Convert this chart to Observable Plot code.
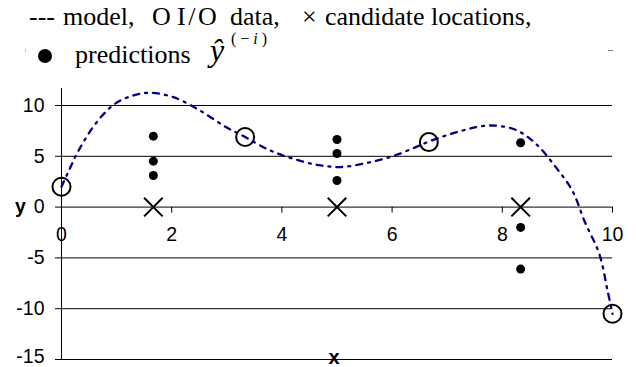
<!DOCTYPE html>
<html>
<head>
<meta charset="utf-8">
<script src="https://cdn.jsdelivr.net/npm/d3@7"></script>
<script src="https://cdn.jsdelivr.net/npm/@observablehq/plot@0.6"></script>
<style>
  html, body { margin: 0; padding: 0; background: #fff; }
  #head { position: relative; width: 636px; height: 62px; color: #000; }
  #head span { position: absolute; white-space: pre; font-family: "Liberation Serif", "Times New Roman", "DejaVu Serif", serif; }
  .l1 { font-size: 26px; line-height: 0.9; top: 4.5px; }
  .l2 { font-size: 26px; line-height: 0.9; top: 42.5px; }
  #bullet { position: absolute; left: 38px; top: 49px; width: 14px; height: 14px; border-radius: 50%; background: #000; }
  #mark { position: absolute; left: 608px; top: 50px; width: 5px; height: 1px; background: #777; }
  #mark2 { position: absolute; left: 25px; top: 49px; width: 1px; height: 3px; background: #bbb; }
  #chart svg { display: block; }
</style>
</head>
<body>
<div id="head">
  <span class="l1" style="left:29px">---</span>
  <span class="l1" style="left:63px">model,</span>
  <span class="l1" style="left:152px">O</span>
  <span class="l1" style="left:177px; letter-spacing:2.5px">I/O</span>
  <span class="l1" style="left:230px">data,</span>
  <span class="l1" style="left:302px">×</span>
  <span class="l1" style="left:325px">candidate locations,</span>
  <div id="bullet"></div>
  <span class="l2" style="left:75px">predictions</span>
  <span style="left:210px; top:35.6px; font-size:32px; line-height:0.9; font-style:italic;">ŷ</span>
  <span style="left:231px; top:32.5px; font-size:16px; line-height:0.8;">( − <i>i</i> )</span>
  <div id="mark"></div>
  <div id="mark2"></div>
</div>
<div id="chart"></div>
<script>
// ---- data ----
const yTicks = [-15, -10, -5, 0, 5, 10];
const xTicks = [0, 2, 4, 6, 8, 10];
const xAxisAt = 0;

// model curve (dash-dot)
const modelX = [0, 0.12, 0.31, 0.64, 0.97, 1.30, 1.60, 2.03, 2.51, 2.99, 3.333, 3.72, 4.02, 4.54, 4.74, 5.04, 5.52, 6.01, 6.43, 6.667, 7.28, 7.76, 8.24, 8.61, 8.97, 9.27, 9.50, 9.76, 9.91, 10];
const modelY = [2.0, 3.43, 5.57, 8.36, 10.17, 10.98, 11.25, 10.82, 9.51, 7.86, 6.9, 5.74, 5.08, 4.26, 4.09, 3.93, 4.32, 5.01, 5.90, 6.45, 7.54, 8.03, 7.61, 6.23, 3.93, 1.63, -1.49, -4.60, -8.21, -10.5];

// I/O data (open circles)
const ioX = [0, 3.333, 6.667, 10];
const ioY = [2.0, 6.9, 6.4, -10.5];

// candidate locations (crosses)
const candX = [1.667, 5, 8.333];
const candY = [0, 0, 0];

// leave-one-out predictions (filled dots)
const predX = [1.667, 1.667, 1.667, 5, 5, 5, 8.333, 8.333, 8.333];
const predY = [6.98, 4.52, 3.11, 6.65, 5.28, 2.62, 6.33, -2.0, -6.1];

// ---- tables ----
const model = modelX.map((x, i) => ({x, y: modelY[i]}));
const io = ioX.map((x, i) => ({x, y: ioY[i]}));
const cand = candX.map((x, i) => ({x, y: candY[i]}));
const pred = predX.map((x, i) => ({x, y: predY[i]}));
const yTop = d3.max(yTicks), yBottom = d3.min(yTicks);

const chart = Plot.plot({
  width: 636,
  height: 305,
  marginLeft: 61,
  marginRight: 24,
  marginTop: 43,
  marginBottom: 8,
  style: {fontFamily: "'Liberation Sans', Arial, sans-serif", fontSize: "19.5px", color: "#000", background: "#fff", overflow: "visible"},
  x: {domain: [d3.min(xTicks), d3.max(xTicks)], axis: null},
  y: {domain: [yBottom, yTop], axis: null},
  marks: [
    // horizontal gridlines
    Plot.ruleY(yTicks, {y: d => d, x1: d3.min(xTicks), x2: d3.max(xTicks), stroke: "#000", strokeWidth: 1}),
    // vertical value axis line
    Plot.ruleX([d3.min(xTicks)], {x: d => d, y1: () => yTop, y2: () => yBottom, insetTop: -17, stroke: "#000", strokeWidth: 1}),
    // y axis ticks & labels (bottom label drawn separately, nudged to stay inside the page)
    Plot.axisY({ticks: yTicks, tickSize: 6, tickPadding: 11, tickFormat: d => d === yBottom ? "" : String(d), label: null, fontSize: 19.5}),
    Plot.axisY({ticks: [yBottom], tickSize: 0, tickPadding: 17, tickFormat: d => String(d), label: null, fontSize: 19.5, dy: -2.5}),
    // x ticks on the y=0 line
    Plot.ruleX(xTicks, {x: d => d, y1: () => xAxisAt, y2: () => xAxisAt, insetBottom: -6, stroke: "#000", strokeWidth: 1}),
    Plot.text(xTicks, {x: d => d, y: () => xAxisAt, text: d => String(d), dy: 28, textAnchor: "middle", fontSize: 19.5}),
    // axis titles
    Plot.text(["y"], {frameAnchor: "left", y: () => xAxisAt, dx: -41, textAnchor: "middle", fontWeight: "bold", fontSize: 19.5}),
    Plot.text(["x"], {frameAnchor: "bottom", lineAnchor: "middle", dx: -3, dy: -2, fontWeight: "bold", fontSize: 20}),
    // model curve
    Plot.line(model, {x: "x", y: "y", curve: "catmull-rom", stroke: "#000080", strokeWidth: 2.3, strokeDasharray: "6,6,2,6"}),
    // I/O data
    Plot.dot(io, {x: "x", y: "y", r: 9, stroke: "#000", strokeWidth: 2, fill: "none"}),
    // candidate locations
    Plot.dot(cand, {x: "x", y: "y", symbol: "times", r: 8.5, stroke: "#000", strokeWidth: 2}),
    // predictions
    Plot.dot(pred, {x: "x", y: "y", r: 4.5, fill: "#000", stroke: "none"})
  ]
});
document.getElementById("chart").appendChild(chart);
</script>
</body>
</html>
